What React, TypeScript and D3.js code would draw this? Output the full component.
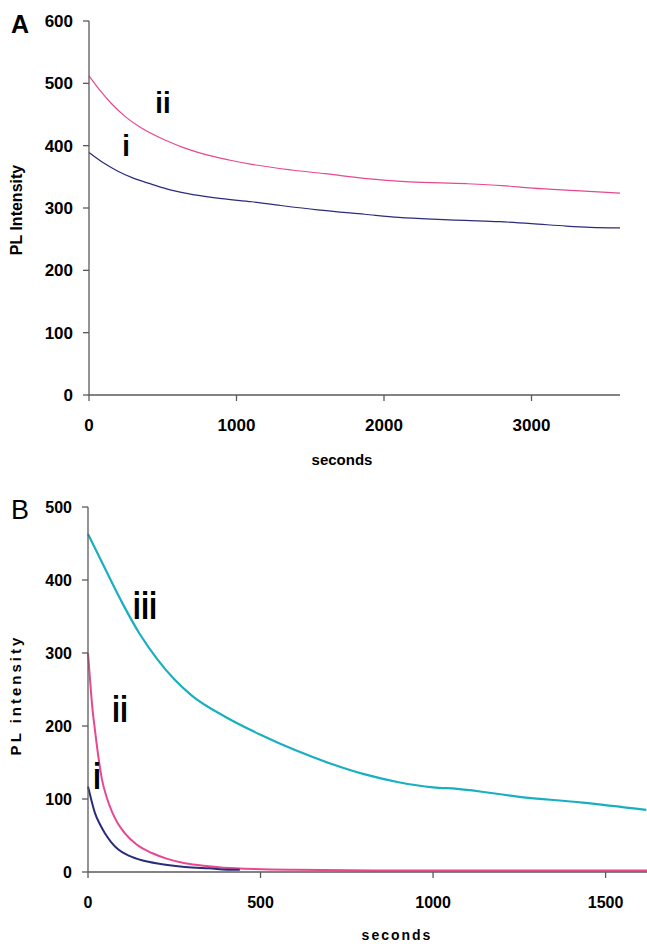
import React from 'react';
import * as d3 from 'd3';

// Panel A: PL intensity vs seconds
const aSeriesI: [number, number][] = [
  [0, 389], [100, 372], [196, 359], [300, 348], [427, 338], [550, 329], [718, 321], [900, 315],
  [1104, 310], [1300, 304], [1550, 297], [1869, 290], [2100, 285], [2329, 282], [2550, 280],
  [2783, 278], [3000, 275], [3236, 271], [3400, 269], [3600, 268],
];
const aSeriesII: [number, number][] = [
  [0, 512], [80, 487], [150, 468], [244, 447], [350, 429], [515, 409], [650, 396], [785, 386],
  [950, 377], [1104, 370], [1374, 361], [1600, 355], [1882, 347], [2173, 342], [2559, 339],
  [2800, 336], [3006, 332], [3300, 328], [3600, 324],
];

// Panel B
const bSeriesI: [number, number][] = [
  [0, 117], [10, 98], [20, 81], [35, 65], [49, 53], [67, 41], [87, 31], [120, 22], [156, 16],
  [210, 11], [281, 7], [350, 5], [426, 3], [440, 3],
];
const bSeriesII: [number, number][] = [
  [0, 300], [6, 263], [12, 228], [20, 195], [30, 158], [40, 128], [55, 101], [70, 82], [87, 66],
  [107, 53], [140, 38], [185, 26], [230, 18], [281, 12], [350, 8], [426, 5], [600, 3], [900, 2],
  [1200, 2], [1620, 2],
];
const bSeriesIII: [number, number][] = [
  [0, 463], [50, 415], [100, 368], [150, 326], [200, 292], [250, 264], [300, 242], [400, 212],
  [500, 188], [600, 167], [700, 149], [800, 134], [900, 123], [1000, 116], [1070, 114],
  [1250, 103], [1433, 95], [1618, 85],
];

const aYTicks = [0, 100, 200, 300, 400, 500, 600];
const aXTicks = [0, 1000, 2000, 3000];
const bYTicks = [0, 100, 200, 300, 400, 500];
const bXTicks = [0, 500, 1000, 1500];

const navy = '#2b2b7c';
const pink = '#e6498f';
const teal = '#18b0c0';
const axisColor = '#5a5a5a';
const font = '"Liberation Sans", Arial, sans-serif';

type Tag = { text: string; x: number; y: number; size: number; sx: number };

type PanelProps = {
  letter: string;
  letterBold: boolean;
  letterSize: number;
  yLabel: string;
  xLabel: string;
  labelSize: number;
  yLabelSize: number;
  xSpacing: number;
  ySpacing: number;
  tickSize: number;
  x: d3.ScaleLinear<number, number>;
  y: d3.ScaleLinear<number, number>;
  xTicks: number[];
  yTicks: number[];
  series: { data: [number, number][]; color: string; width: number }[];
  tags: Tag[];
  letterPos: [number, number];
  xLabelPos: [number, number];
  yLabelPos: [number, number];
};

const Panel = (p: PanelProps) => {
  const [x0, x1] = p.x.range();
  const [y0, y1] = p.y.range();
  const line = d3
    .line<[number, number]>()
    .x((d) => p.x(d[0]))
    .y((d) => p.y(d[1]))
    .curve(d3.curveMonotoneX);
  return (
    <g style={{ fontFamily: font }}>
      <text x={p.letterPos[0]} y={p.letterPos[1]} fontSize={p.letterSize} fontWeight={p.letterBold ? 'bold' : 'normal'}>
        {p.letter}
      </text>
      {p.series.map((s, i) => (
        <path key={i} d={line(s.data) || ''} fill="none" stroke={s.color} strokeWidth={s.width} />
      ))}
      <line x1={x0} x2={x0} y1={y0} y2={y1} stroke={axisColor} strokeWidth="1.3" />
      <line x1={x0} x2={x1} y1={y0} y2={y0} stroke={axisColor} strokeWidth="1.3" />
      {p.yTicks.map((t) => (
        <g key={`y${t}`}>
          <line x1={x0 - 6} x2={x0} y1={p.y(t)} y2={p.y(t)} stroke={axisColor} strokeWidth="1.3" />
          <text x={x0 - 16} y={p.y(t)} dy="0.35em" textAnchor="end" fontSize={p.tickSize} fontWeight="bold">
            {t}
          </text>
        </g>
      ))}
      {p.xTicks.map((t) => (
        <g key={`x${t}`}>
          <line x1={p.x(t)} x2={p.x(t)} y1={y0} y2={y0 + 6} stroke={axisColor} strokeWidth="1.3" />
          <text x={p.x(t)} y={y0 + 30} dy="0.35em" textAnchor="middle" fontSize={p.tickSize} fontWeight="bold">
            {t}
          </text>
        </g>
      ))}
      <text
        x={p.xLabelPos[0]}
        y={p.xLabelPos[1]}
        dy="0.35em"
        textAnchor="middle"
        fontSize={p.labelSize}
        fontWeight="bold"
        letterSpacing={p.xSpacing}
      >
        {p.xLabel}
      </text>
      <text
        transform={`translate(${p.yLabelPos[0]},${p.yLabelPos[1]}) rotate(-90)`}
        dy="0.35em"
        textAnchor="middle"
        fontSize={p.yLabelSize}
        fontWeight="bold"
        letterSpacing={p.ySpacing}
      >
        {p.yLabel}
      </text>
      {p.tags.map((t) => (
        <text
          key={t.text}
          transform={`translate(${t.x},${t.y}) scale(${t.sx},1)`}
          textAnchor="middle"
          fontSize={t.size}
          fontWeight="bold"
        >
          {t.text}
        </text>
      ))}
    </g>
  );
};

export default function App() {
  const ax = d3.scaleLinear().domain([0, 3600]).range([89, 620]);
  const ay = d3.scaleLinear().domain([0, 600]).range([395, 21]);
  const bx = d3.scaleLinear().domain([0, 1620]).range([88, 647]);
  const by = d3.scaleLinear().domain([0, 500]).range([872, 507]);
  return (
    <svg width={647} height={944} style={{ position: 'absolute', left: 0, top: 0, background: '#fff' }}>
      <Panel
        letter="A"
        letterBold={true}
        letterSize={25}
        yLabel="PL Intensity"
        xLabel="seconds"
        labelSize={15}
        yLabelSize={16}
        xSpacing={0}
        ySpacing={0}
        tickSize={17}
        x={ax}
        y={ay}
        xTicks={aXTicks}
        yTicks={aYTicks}
        series={[
          { data: aSeriesI, color: navy, width: 1.2 },
          { data: aSeriesII, color: pink, width: 1.2 },
        ]}
        tags={[
          { text: 'ii', x: 163, y: 113, size: 29, sx: 0.95 },
          { text: 'i', x: 126, y: 156, size: 29, sx: 0.95 },
        ]}
        letterPos={[11, 33]}
        xLabelPos={[342, 460]}
        yLabelPos={[16, 210]}
      />
      <Panel
        letter="B"
        letterBold={false}
        letterSize={27}
        yLabel="PL intensity"
        xLabel="seconds"
        labelSize={14}
        yLabelSize={15}
        xSpacing={2}
        ySpacing={3}
        tickSize={16}
        x={bx}
        y={by}
        xTicks={bXTicks}
        yTicks={bYTicks}
        series={[
          { data: bSeriesIII, color: teal, width: 2.2 },
          { data: bSeriesII, color: pink, width: 2 },
          { data: bSeriesI, color: navy, width: 2 },
        ]}
        tags={[
          { text: 'iii', x: 145, y: 619, size: 39, sx: 0.75 },
          { text: 'ii', x: 120, y: 722, size: 37, sx: 0.78 },
          { text: 'i', x: 97, y: 789, size: 37, sx: 0.78 },
        ]}
        letterPos={[11, 519]}
        xLabelPos={[397, 935]}
        yLabelPos={[16, 695]}
      />
    </svg>
  );
}
